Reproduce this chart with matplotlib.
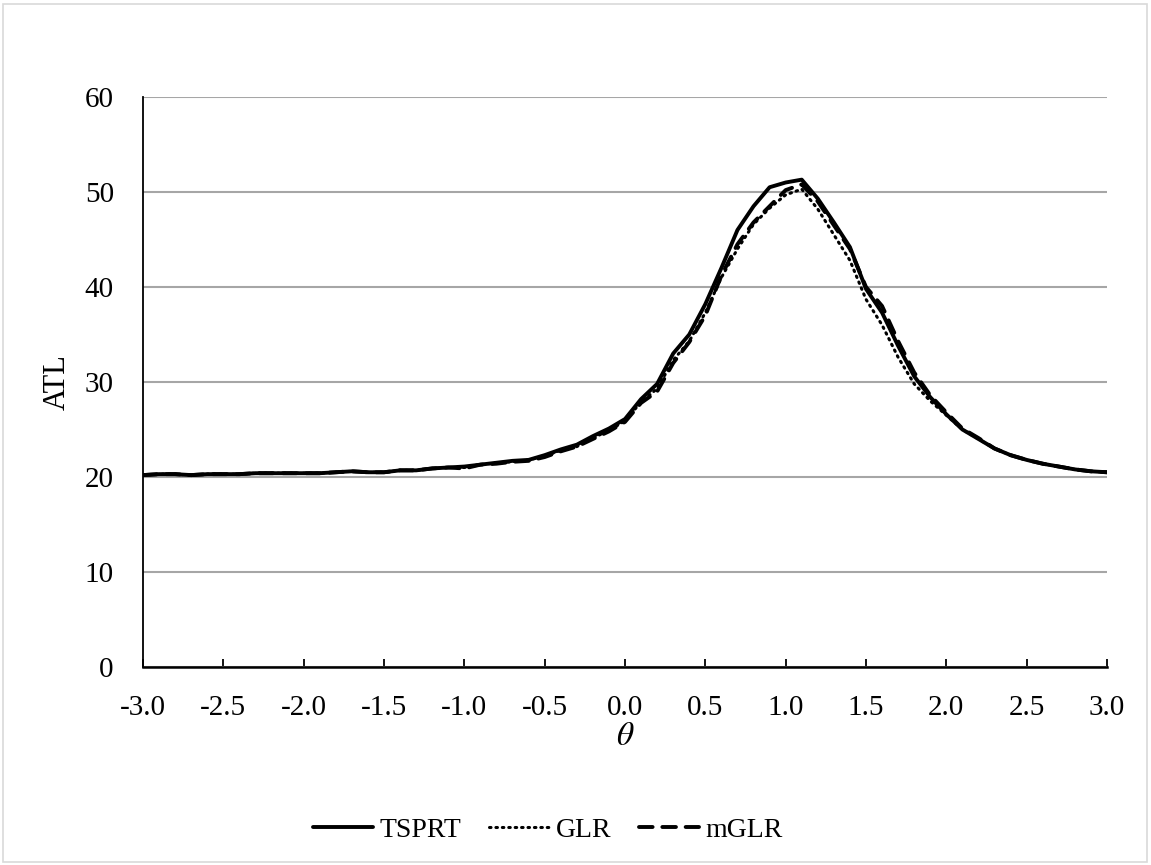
import numpy as np
import matplotlib
matplotlib.use("Agg")
import matplotlib.pyplot as plt
from matplotlib.patches import Rectangle

plt.rcParams['font.family'] = ['Liberation Serif', 'DejaVu Serif']
plt.rcParams['mathtext.fontset'] = 'stix'

theta = [round(-3.0 + 0.1 * i, 1) for i in range(61)]

tsprt = [20.2, 20.3, 20.3, 20.2, 20.3, 20.3, 20.3, 20.4, 20.4, 20.4,
         20.4, 20.4, 20.5, 20.6, 20.5, 20.5, 20.7, 20.7, 20.9, 21.0,
         21.1, 21.3, 21.5, 21.7, 21.8, 22.3, 22.9, 23.4, 24.3, 25.1,
         26.1, 28.2, 29.8, 33.0, 35.0, 38.2, 42.0, 46.0, 48.5, 50.5,
         51.0, 51.3, 49.3, 46.8, 44.2, 39.8, 37.3, 33.8, 30.6, 28.4,
         26.6, 25.0, 24.0, 23.0, 22.3, 21.8, 21.4, 21.1, 20.8, 20.6,
         20.5]

glr = [20.2, 20.3, 20.3, 20.2, 20.3, 20.3, 20.3, 20.4, 20.4, 20.4,
       20.4, 20.4, 20.5, 20.6, 20.5, 20.5, 20.7, 20.7, 20.9, 21.0,
       21.0, 21.3, 21.5, 21.6, 21.8, 22.2, 22.8, 23.2, 24.1, 24.9,
       25.9, 27.9, 29.3, 32.3, 34.3, 37.3, 41.0, 44.0, 46.6, 48.3,
       49.7, 50.3, 48.2, 45.5, 42.8, 38.7, 36.0, 32.6, 29.8, 28.0,
       26.5, 25.0, 24.0, 23.0, 22.3, 21.8, 21.4, 21.1, 20.8, 20.6,
       20.5]

mglr = [20.2, 20.3, 20.3, 20.2, 20.3, 20.3, 20.3, 20.4, 20.4, 20.4,
        20.4, 20.4, 20.5, 20.6, 20.5, 20.5, 20.7, 20.7, 20.9, 21.0,
        20.9, 21.3, 21.4, 21.6, 21.7, 22.1, 22.7, 23.2, 24.0, 24.8,
        25.8, 27.8, 29.0, 32.0, 34.2, 37.0, 41.2, 44.5, 46.8, 48.5,
        50.2, 50.8, 49.0, 46.5, 44.0, 40.0, 38.0, 34.3, 31.0, 28.6,
        26.8, 25.1, 24.1, 23.0, 22.3, 21.8, 21.4, 21.1, 20.8, 20.6,
        20.5]

xticks = [-3.0, -2.5, -2.0, -1.5, -1.0, -0.5, 0.0, 0.5, 1.0, 1.5, 2.0, 2.5, 3.0]
yticks = [0, 10, 20, 30, 40, 50, 60]

W, H = 1151, 865
fig = plt.figure(figsize=(W / 100, H / 100), dpi=100)
ax = fig.add_axes([143 / W, 1 - 667 / H, (1107 - 143) / W, (667 - 97) / H])

fig.patches.append(Rectangle((3 / W, 3 / H), (W - 7) / W, (H - 7) / H,
                             transform=fig.transFigure, fill=False,
                             edgecolor='#D9D9D9', linewidth=1.2))

ax.plot(theta, tsprt, color='black', lw=2.8, solid_capstyle='round',
        solid_joinstyle='round', label='TSPRT', zorder=5)
ax.plot(theta, glr, color='black', lw=2.2, linestyle=(0, (0.5, 1.6)),
        dash_capstyle='round', label='GLR', zorder=4)
ax.plot(theta, mglr, color='black', lw=2.8, linestyle=(0, (3.5, 2.5)),
        dash_capstyle='round', label='mGLR', zorder=3)

ax.set_xlim(-3, 3)
ax.set_ylim(0, 60)
ax.set_xticks(xticks)
ax.set_xticklabels([f"{v:.1f}" for v in xticks])
ax.set_yticks(yticks)
ax.set_yticklabels([str(v) for v in yticks])

ax.grid(axis='y', color='#A6A6A6', linewidth=1.5)
ax.set_axisbelow(True)
for s in ['top', 'right']:
    ax.spines[s].set_visible(False)
ax.spines['left'].set_color('black')
ax.spines['left'].set_linewidth(1.3)
ax.spines['bottom'].set_color('black')
ax.spines['bottom'].set_linewidth(1.8)
ax.spines['bottom'].set_zorder(6)

ax.tick_params(axis='x', direction='in', length=6, width=1.3, labelsize=21, pad=20)
ax.tick_params(axis='y', length=0, labelsize=21, pad=21)

fig.text(57 / W, 1 - 382 / H, 'ATL', rotation=90, ha='center', va='center', fontsize=22)
fig.text(625 / W, 1 - 737 / H, r'$\theta$', ha='center', va='center', fontsize=24)

leg = fig.legend(loc='center', bbox_to_anchor=(548 / W, 1 - 830 / H), ncol=3,
                 frameon=False, fontsize=20, handlelength=2.15, handletextpad=0.25,
                 columnspacing=1.0)

fig.savefig('out.png', dpi=100)
